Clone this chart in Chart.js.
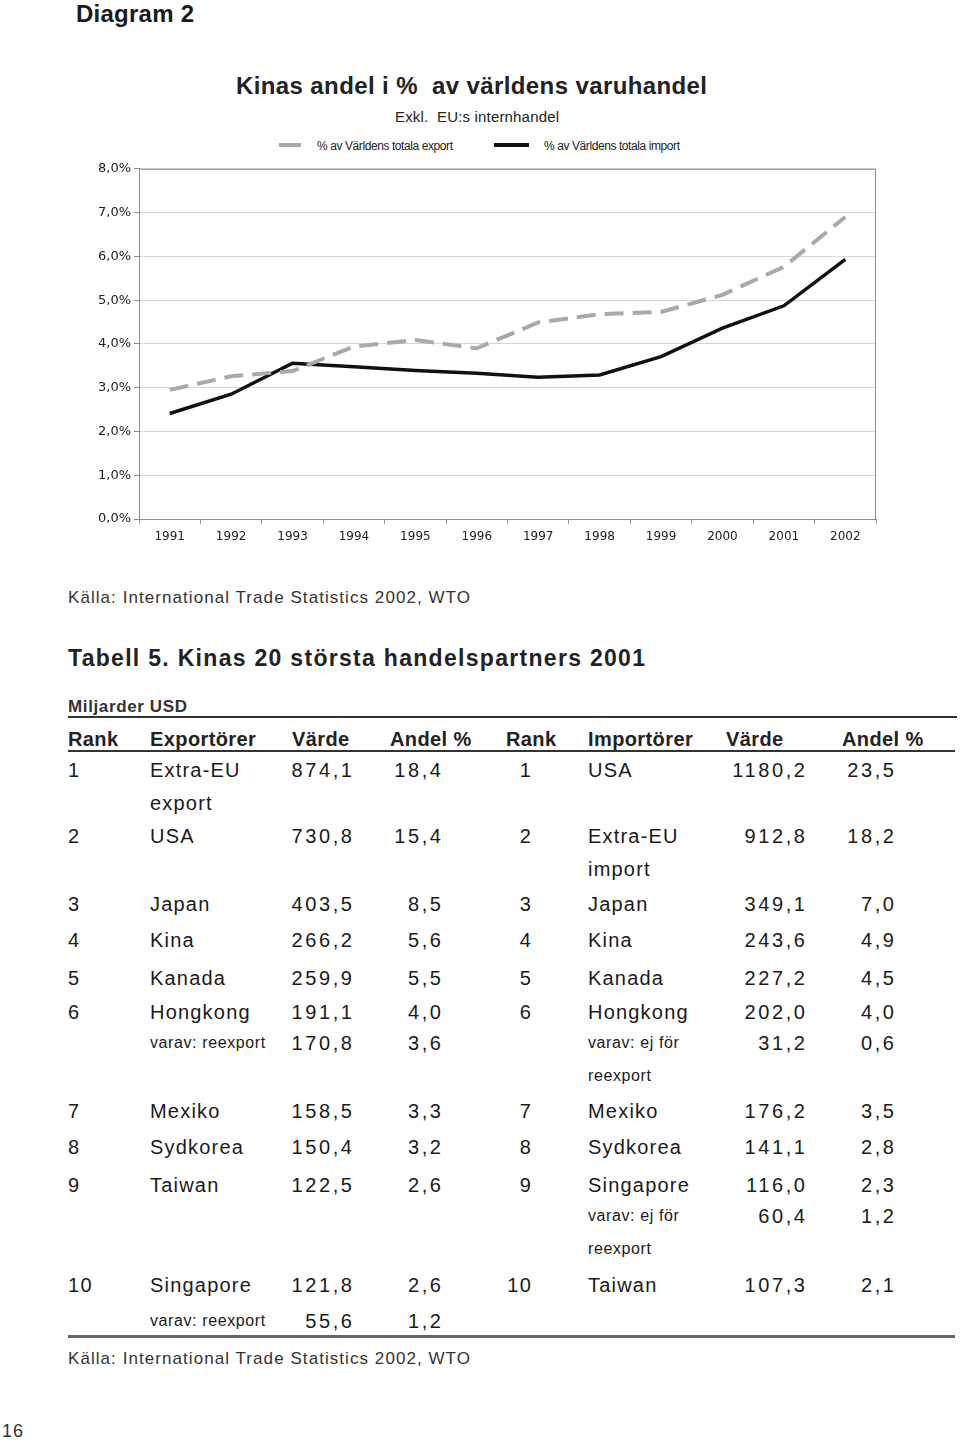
<!DOCTYPE html>
<html><head><meta charset="utf-8">
<script src="https://cdn.jsdelivr.net/npm/chart.js@4"></script>
<style>
html,body{margin:0;padding:0;background:#fff;}
body{width:960px;height:1442px;position:relative;overflow:hidden;font-family:"Liberation Sans",Arial,sans-serif;color:#1a1a1a;}
.t{position:absolute;white-space:pre;line-height:1;}
.rule{position:absolute;}
.leg{position:absolute;height:4px;}
#cv{position:absolute;left:0;top:158px;}
</style></head><body>
<canvas id="cv" width="960" height="402"></canvas>
<div class="leg" style="left:279px;top:143px;width:22px;background:#a9a9a9"></div>
<div class="leg" style="left:494px;top:143px;width:35px;background:#111"></div>
<div class="rule" style="left:68px;top:716px;width:889px;height:2px;background:#333"></div>
<div class="rule" style="left:68px;top:750px;width:887px;height:2px;background:#333"></div>
<div class="rule" style="left:68px;top:1335px;width:887px;height:3px;background:#666"></div>
<script>
// ---- chart data ----
const years = ['1991','1992','1993','1994','1995','1996','1997','1998','1999','2000','2001','2002'];
const exportShare = [2.95, 3.26, 3.38, 3.94, 4.09, 3.90, 4.49, 4.68, 4.73, 5.12, 5.76, 6.90];
const importShare = [2.41, 2.85, 3.56, 3.48, 3.39, 3.33, 3.24, 3.29, 3.71, 4.36, 4.87, 5.93];
const yTickLabels = ['0,0%','1,0%','2,0%','3,0%','4,0%','5,0%','6,0%','7,0%','8,0%'];
const seriesNames = ['% av Världens totala export','% av Världens totala import'];

// ---- table data ----
const ranks = ['1','2','3','4','5','6','7','8','9','10'];
const exporters = ['Extra-EU\nexport','USA','Japan','Kina','Kanada','Hongkong','Mexiko','Sydkorea','Taiwan','Singapore'];
const exportValues = ['874,1','730,8','403,5','266,2','259,9','191,1','158,5','150,4','122,5','121,8'];
const exportShares = ['18,4','15,4','8,5','5,6','5,5','4,0','3,3','3,2','2,6','2,6'];
const exportSubRows = {5:['varav: reexport','170,8','3,6'], 9:['varav: reexport','55,6','1,2']};
const importers = ['USA','Extra-EU\nimport','Japan','Kina','Kanada','Hongkong','Mexiko','Sydkorea','Singapore','Taiwan'];
const importValues = ['1180,2','912,8','349,1','243,6','227,2','202,0','176,2','141,1','116,0','107,3'];
const importShares = ['23,5','18,2','7,0','4,9','4,5','4,0','3,5','2,8','2,3','2,1'];
const importSubRows = {5:['varav: ej för\nreexport','31,2','0,6'], 8:['varav: ej för\nreexport','60,4','1,2']};
const headers = ['Rank','Exportörer','Värde','Andel %','Rank','Importörer','Värde','Andel %'];

// ---- text helper ----
function txt(s, x, y, o){
  o = Object.assign({size:20, weight:400, ls:0, align:'left', color:'#1a1a1a', family:'"Liberation Sans", Arial, sans-serif'}, o||{});
  const d = document.createElement('div');
  d.className = 't';
  d.textContent = s;
  d.style.fontSize = o.size+'px'; d.style.fontWeight = o.weight; d.style.color = o.color;
  d.style.fontFamily = o.family; d.style.letterSpacing = o.ls+'px';
  d.style.left = '0px'; d.style.top = '0px';
  document.body.appendChild(d);
  let ls = o.ls;
  if (o.width){
    const w = d.getBoundingClientRect().width - ls;
    const n = Math.max(s.length-1,1);
    ls = (o.width - (w - (s.length-1)*o.ls)) / n;
    d.style.letterSpacing = ls+'px';
  }
  let tx = '0';
  if (o.align==='right'){ tx='-100%'; x += ls; }
  else if (o.align==='center'){ tx='-50%'; x += ls/2; }
  d.style.left = x+'px'; d.style.top = y+'px';
  d.style.transform = 'translate('+tx+',-50%)';
  return d;
}

// ---- headings ----
txt('Diagram 2', 76, 14, {size:24, weight:700, width:118});
txt('Kinas andel i %  av världens varuhandel', 236, 86, {size:24, weight:700, width:471, color:'#222'});
txt('Exkl.  EU:s internhandel', 395, 116, {size:15, width:164, color:'#222'});
txt(seriesNames[0], 317, 146, {size:12, width:136, color:'#222'});
txt(seriesNames[1], 544, 146, {size:12, width:136, color:'#222'});
txt('Källa: International Trade Statistics 2002, WTO', 68, 597, {size:17, width:402, color:'#333'});
txt('Tabell 5. Kinas 20 största handelspartners 2001', 68, 658, {size:23, weight:700, width:577, color:'#222'});
txt('Miljarder USD', 68, 706, {size:17, weight:700, width:119, color:'#333'});
txt('Källa: International Trade Statistics 2002, WTO', 68, 1358, {size:17, width:402, color:'#333'});
txt('16', 2, 1431, {size:18, ls:1, color:'#333'});

// ---- table ----
const hx = [68,150,292,390,506,588,726,842];
headers.forEach((h,i)=>txt(h, hx[i], 739, {size:20, weight:700, ls:0.4, color:'#222'}));
const rowY = [770, 836, 904, 940, 978, 1012, 1111, 1147, 1185, 1285];
const nameOpt = {size:20, ls:1.2};
const numOpt = {size:20, ls:2.6, align:'right'};
const smallOpt = {size:16, ls:0.6};
function nameLines(s, x, y){
  s.split('\n').forEach((line,k)=>txt(line, x, y + k*33, nameOpt));
}
function subLines(s, x, y){
  s.split('\n').forEach((line,k)=>txt(line, x, y + k*33, smallOpt));
}
ranks.forEach((r,i)=>{
  const y = rowY[i];
  txt(r, 68, y, {size:20, ls:1.4});
  nameLines(exporters[i], 150, y);
  txt(exportValues[i], 352, y, numOpt);
  txt(exportShares[i], 441, y, numOpt);
  txt(r, 531, y, {size:20, ls:1.4, align:'right'});
  nameLines(importers[i], 588, y);
  txt(importValues[i], 805, y, numOpt);
  txt(importShares[i], 894, y, numOpt);
  const sy = i===9 ? y+36 : y+31;
  if (exportSubRows[i]){
    const s = exportSubRows[i];
    subLines(s[0], 150, sy); txt(s[1], 352, sy, numOpt); txt(s[2], 441, sy, numOpt);
  }
  if (importSubRows[i]){
    const s = importSubRows[i];
    subLines(s[0], 588, sy); txt(s[1], 805, sy, numOpt); txt(s[2], 894, sy, numOpt);
  }
});

// ---- chart ----
const frame = {
  id:'frame',
  beforeDatasetsDraw(c){
    const a = c.chartArea, ctx = c.ctx;
    ctx.save();
    ctx.strokeStyle = '#8c8c8c'; ctx.lineWidth = 1;
    ctx.beginPath();
    ctx.moveTo(a.left+0.5, a.bottom); ctx.lineTo(a.left+0.5, a.top+0.5);
    ctx.lineTo(a.right-0.5, a.top+0.5); ctx.lineTo(a.right-0.5, a.bottom);
    ctx.stroke();
    ctx.restore();
  }
};
new Chart(document.getElementById('cv'), {
  type:'line',
  data:{
    labels: years,
    datasets:[
      {label:seriesNames[0], data:exportShare, borderColor:'#a9a9a9', borderWidth:4, borderDash:[19,9], pointRadius:0, tension:0, fill:false, borderCapStyle:'butt'},
      {label:seriesNames[1], data:importShare, borderColor:'#111111', borderWidth:3.5, pointRadius:0, tension:0, fill:false}
    ]
  },
  plugins:[frame],
  options:{
    responsive:false, animation:false,
    devicePixelRatio:1,
    layout:{padding:{top:10, right:84, left:0, bottom:0}},
    plugins:{legend:{display:false}, tooltip:{enabled:false}, title:{display:false}},
    scales:{
      x:{
        type:'category', offset:true,
        grid:{display:true, drawOnChartArea:false, drawTicks:true, tickLength:5, offset:true, color:'#999', tickColor:'#999'},
        border:{display:true, color:'#8c8c8c'},
        ticks:{font:{family:'"DejaVu Sans"', size:12}, color:'#222', padding:6, maxRotation:0, autoSkip:false},
        afterFit(s){ s.height = 41; }
      },
      y:{
        min:0, max:8,
        grid:{color:'#d6d6d6', lineWidth:1, tickLength:5, tickColor:'#8c8c8c'},
        border:{display:true, color:'#8c8c8c'},
        ticks:{stepSize:1, font:{family:'"DejaVu Sans"', size:13}, color:'#222', padding:3,
          callback:(v,i)=>yTickLabels[i]},
        afterFit(s){ s.width = 139; }
      }
    }
  }
});
</script>
</body></html>
